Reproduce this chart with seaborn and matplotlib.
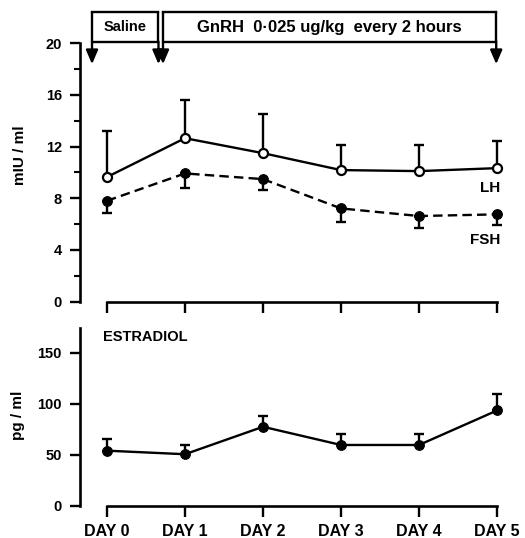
import matplotlib
matplotlib.use("Agg")
import matplotlib.pyplot as plt
import seaborn as sns
import pandas as pd
import numpy as np
from matplotlib.ticker import MultipleLocator

days = [0, 1, 2, 3, 4, 5]
day_labels = ["DAY 0", "DAY 1", "DAY 2", "DAY 3", "DAY 4", "DAY 5"]
lh_mean = [9.64, 12.65, 11.49, 10.18, 10.1, 10.33]
lh_upper = [13.19, 15.6, 14.5, 12.1, 12.1, 12.42]
fsh_mean = [7.8, 9.92, 9.48, 7.21, 6.62, 6.75]
fsh_lower = [6.85, 8.76, 8.63, 6.18, 5.67, 5.92]
e2_mean = [53.9, 50.4, 77.4, 59.5, 59.5, 93.4]
e2_upper = [65.0, 59.3, 88.2, 70.3, 70.3, 110.1]

sns.set_theme(style="ticks")
plt.rcParams['font.family'] = ['Liberation Sans', 'DejaVu Sans']
plt.rcParams['font.weight'] = 'bold'
for k in ['text.color', 'axes.labelcolor', 'xtick.color', 'ytick.color', 'axes.edgecolor']:
    plt.rcParams[k] = 'black'

W, H = 525, 538
fig = plt.figure(figsize=(W / 100, H / 100), dpi=100)

def px_axes(left, right, top, bottom):
    return fig.add_axes([left / W, 1 - bottom / H, (right - left) / W, (bottom - top) / H])

ax1 = px_axes(80, 505, 43.3, 301.5)
ax2 = px_axes(80, 505, 328, 505.5)

xlim = (-(107 - 80) / 78, (505 - 107) / 78)

lw = 1.7
df_top = pd.DataFrame({"day": days * 2,
                       "value": lh_mean + fsh_mean,
                       "hormone": ["LH"] * 6 + ["FSH"] * 6})

# error bars (one-sided)
ax1.errorbar(days, lh_mean, yerr=[np.zeros(6), np.array(lh_upper) - np.array(lh_mean)],
             fmt='none', ecolor='black', elinewidth=lw, capsize=3.5, capthick=lw, zorder=2)
ax1.errorbar(days, fsh_mean, yerr=[np.array(fsh_mean) - np.array(fsh_lower), np.zeros(6)],
             fmt='none', ecolor='black', elinewidth=lw, capsize=3.5, capthick=lw, zorder=2)

sns.lineplot(data=df_top[df_top.hormone == "LH"], x="day", y="value", ax=ax1,
             color="black", lw=lw, marker="o", markersize=6.5, markerfacecolor="white",
             markeredgecolor="black", markeredgewidth=1.6, zorder=3, legend=False)
sns.lineplot(data=df_top[df_top.hormone == "FSH"], x="day", y="value", ax=ax1,
             color="black", lw=lw, linestyle=(0, (4, 2.2)), marker="o", markersize=7,
             markerfacecolor="black", markeredgecolor="black", zorder=3, legend=False)

ax1.set_xlim(*xlim)
ax1.set_ylim(0, 20)
ax1.set_yticks([0, 4, 8, 12, 16, 20])
ax1.yaxis.set_minor_locator(MultipleLocator(2))
ax1.set_xticks(days)
ax1.set_xticklabels([])
ax1.set_xlabel("")
ax1.set_ylabel("")

df_e2 = pd.DataFrame({"day": days, "value": e2_mean})
ax2.errorbar(days, e2_mean, yerr=[np.zeros(6), np.array(e2_upper) - np.array(e2_mean)],
             fmt='none', ecolor='black', elinewidth=lw, capsize=3.5, capthick=lw, zorder=2)
sns.lineplot(data=df_e2, x="day", y="value", ax=ax2, color="black", lw=lw,
             marker="o", markersize=7, markerfacecolor="black", markeredgecolor="black",
             zorder=3, legend=False)
ax2.set_xlim(*xlim)
ax2.set_ylim(0, 174.5)
ax2.set_yticks([0, 50, 100, 150])
ax2.set_xticks(days)
ax2.set_xticklabels(day_labels, fontsize=11.5, fontweight='bold')
ax2.set_xlabel("")
ax2.set_ylabel("")

for ax in (ax1, ax2):
    sns.despine(ax=ax)
    ax.spines['left'].set_linewidth(1.9)
    ax.spines['bottom'].set_linewidth(1.9)
    ax.spines['bottom'].set_bounds(0, 5)
    ax.tick_params(axis='y', which='major', direction='out', length=7, width=1.7,
                   labelsize=10, pad=6, colors='black')
    ax.tick_params(axis='y', which='minor', direction='out', length=4, width=1.5,
                   colors='black')
    ax.tick_params(axis='x', which='major', direction='out', length=8, width=1.7,
                   labelsize=11.5, pad=5, colors='black')
    ax.set_facecolor('none')

ax1.set_yticklabels(["0", "4", "8", "12", "16", "20"], fontweight='bold', fontsize=10.5)
ax2.set_yticklabels(["0", "50", "100", "150"], fontweight='bold', fontsize=10.5)

# Labels inside plots
ax1.text(5.04, 8.78, "LH", ha='right', va='center', fontsize=11, fontweight='bold')
ax1.text(5.04, 4.76, "FSH", ha='right', va='center', fontsize=11, fontweight='bold')
ax2.text(-0.05, 165.7, "ESTRADIOL", ha='left', va='center', fontsize=10.5, fontweight='bold')

fig.text(20 / W, 1 - 155 / H, "mIU / ml", rotation=90, ha='center', va='center',
         fontsize=11, fontweight='bold')
fig.text(18 / W, 1 - 415 / H, "pg / ml", rotation=90, ha='center', va='center',
         fontsize=11, fontweight='bold')

# Treatment brackets with arrows
y_top = (301.5 - 12) / 12.92
y_bot = (301.5 - 42) / 12.92
y_tip = (301.5 - 64) / 12.92

def bracket(x0, x1, label, fs):
    ax1.plot([x0, x1], [y_top, y_top], color='black', lw=1.7, clip_on=False,
             solid_capstyle='projecting')
    ax1.plot([x0, x1], [y_bot, y_bot], color='black', lw=1.7, clip_on=False,
             solid_capstyle='butt')
    for xx in (x0, x1):
        ax1.plot([xx, xx], [y_top, y_bot], color='black', lw=1.7, clip_on=False)
        ax1.annotate("", xy=(xx, y_tip), xytext=(xx, y_bot + 0.05),
                     arrowprops=dict(arrowstyle='-|>,head_length=0.7,head_width=0.3',
                                     color='black', lw=1.7, shrinkA=0, shrinkB=0),
                     annotation_clip=False)
    ax1.text((x0 + x1) / 2, (y_top + y_bot) / 2, label, ha='center', va='center',
             fontsize=fs, fontweight='bold')

bracket(-0.192, 0.66, "Saline", 10.5)
bracket(0.718, 4.99, "GnRH  0\u00b7025 ug/kg  every 2 hours", 12)

fig.savefig("out.png", dpi=100)
